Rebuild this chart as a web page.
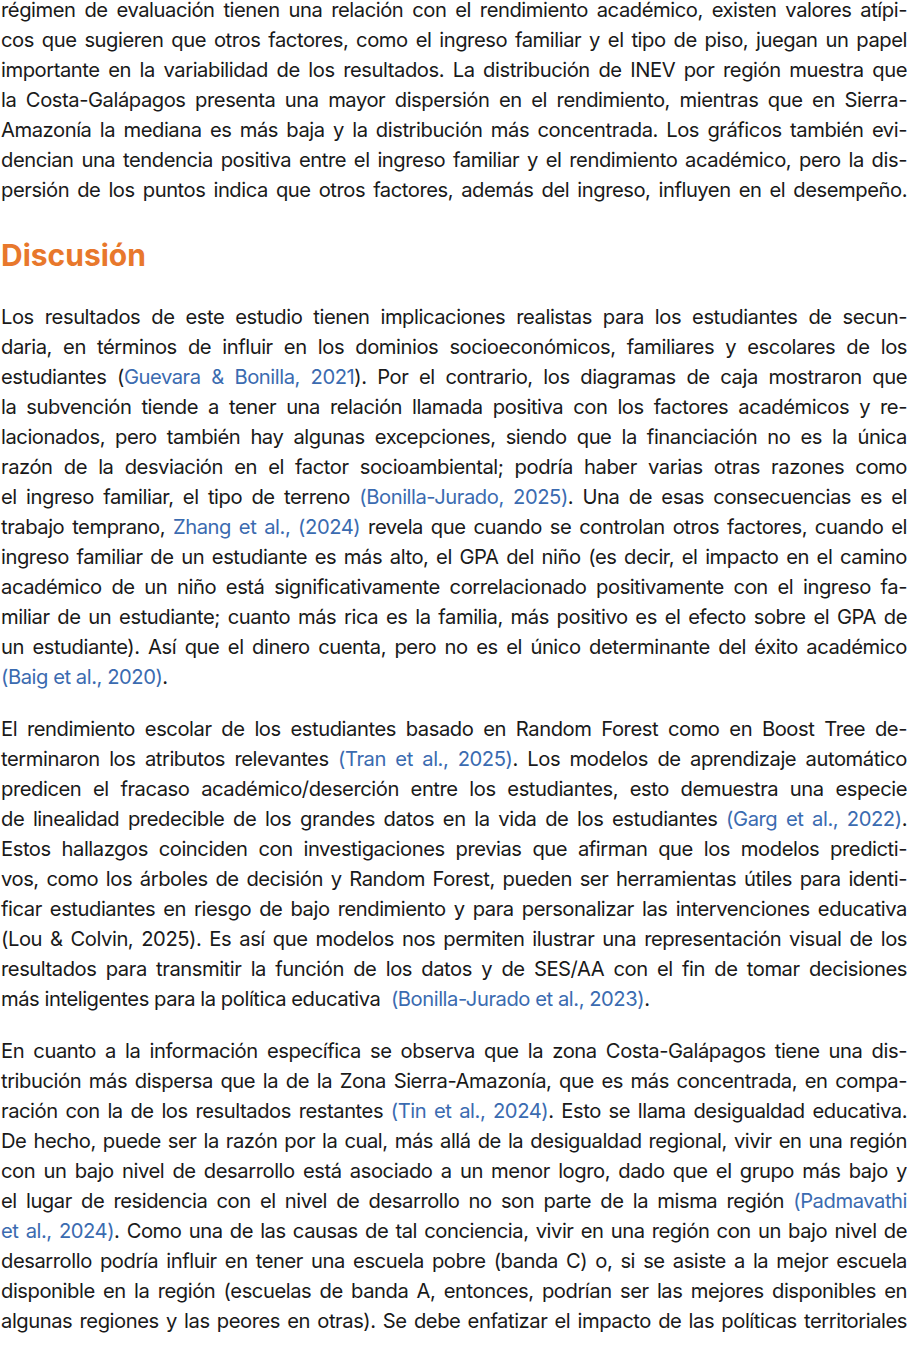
<!DOCTYPE html>
<html lang="es">
<head>
<meta charset="utf-8">
<script src="https://cdn.jsdelivr.net/npm/chart.js@4"></script>
<style>
  html, body { margin: 0; padding: 0; background: #fff; }
  body { width: 907px; height: 1361px; overflow: hidden; font-family: Inter, "Noto Sans", sans-serif; color: #1a1a1a; font-size: 20.2px; letter-spacing: -0.45px; }
  #page { position: absolute; left: 1px; top: -5px; width: 906px; }
  .l { height: 30px; line-height: 30px; white-space: nowrap; text-align: justify; text-align-last: justify; overflow: visible; }
  .e { text-align-last: left; }
  .a { color: #3b6bb0; }
  h2 { margin: 0; height: 97px; line-height: 100px; color: #e8782c; font-size: 30px; font-weight: 700; letter-spacing: 0; }
  .pgap { height: 22px; }
</style>
</head>
<body>
<div id="page"></div>
<script>
// each line of text as it is set in the reference; links are marked with [..]
const para1 = [
  "régimen de evaluación tienen una relación con el rendimiento académico, existen valores atípi-",
  "cos que sugieren que otros factores, como el ingreso familiar y el tipo de piso, juegan un papel",
  "importante en la variabilidad de los resultados. La distribución de INEV por región muestra que",
  "la Costa-Galápagos presenta una mayor dispersión en el rendimiento, mientras que en Sierra-",
  "Amazonía la mediana es más baja y la distribución más concentrada. Los gráficos también evi-",
  "dencian una tendencia positiva entre el ingreso familiar y el rendimiento académico, pero la dis-",
  "persión de los puntos indica que otros factores, además del ingreso, influyen en el desempeño."
];
const heading = "Discusión";
const para2 = [
  "Los resultados de este estudio tienen implicaciones realistas para los estudiantes de secun-",
  "daria, en términos de influir en los dominios socioeconómicos, familiares y escolares de los",
  "estudiantes ([Guevara & Bonilla, 2021]). Por el contrario, los diagramas de caja mostraron que",
  "la subvención tiende a tener una relación llamada positiva con los factores académicos y re-",
  "lacionados, pero también hay algunas excepciones, siendo que la financiación no es la única",
  "razón de la desviación en el factor socioambiental; podría haber varias otras razones como",
  "el ingreso familiar, el tipo de terreno [(Bonilla-Jurado, 2025)]. Una de esas consecuencias es el",
  "trabajo temprano, [Zhang et al., (2024)] revela que cuando se controlan otros factores, cuando el",
  "ingreso familiar de un estudiante es más alto, el GPA del niño (es decir, el impacto en el camino",
  "académico de un niño está significativamente correlacionado positivamente con el ingreso fa-",
  "miliar de un estudiante; cuanto más rica es la familia, más positivo es el efecto sobre el GPA de",
  "un estudiante). Así que el dinero cuenta, pero no es el único determinante del éxito académico",
  "[(Baig et al., 2020)]."
];
const para3 = [
  "El rendimiento escolar de los estudiantes basado en Random Forest como en Boost Tree de-",
  "terminaron los atributos relevantes [(Tran et al., 2025)]. Los modelos de aprendizaje automático",
  "predicen el fracaso académico/deserción entre los estudiantes, esto demuestra una especie",
  "de linealidad predecible de los grandes datos en la vida de los estudiantes [(Garg et al., 2022)].",
  "Estos hallazgos coinciden con investigaciones previas que afirman que los modelos predicti-",
  "vos, como los árboles de decisión y Random Forest, pueden ser herramientas útiles para identi-",
  "ficar estudiantes en riesgo de bajo rendimiento y para personalizar las intervenciones educativa",
  "(Lou & Colvin, 2025). Es así que modelos nos permiten ilustrar una representación visual de los",
  "resultados para transmitir la función de los datos y de SES/AA con el fin de tomar decisiones",
  "más inteligentes para la política educativa&nbsp; [(Bonilla-Jurado et al., 2023)]."
];
const para4 = [
  "En cuanto a la información específica se observa que la zona Costa-Galápagos tiene una dis-",
  "tribución más dispersa que la de la Zona Sierra-Amazonía, que es más concentrada, en compa-",
  "ración con la de los resultados restantes [(Tin et al., 2024)]. Esto se llama desigualdad educativa.",
  "De hecho, puede ser la razón por la cual, más allá de la desigualdad regional, vivir en una región",
  "con un bajo nivel de desarrollo está asociado a un menor logro, dado que el grupo más bajo y",
  "el lugar de residencia con el nivel de desarrollo no son parte de la misma región [(Padmavathi]",
  "[et al., 2024)]. Como una de las causas de tal conciencia, vivir en una región con un bajo nivel de",
  "desarrollo podría influir en tener una escuela pobre (banda C) o, si se asiste a la mejor escuela",
  "disponible en la región (escuelas de banda A, entonces, podrían ser las mejores disponibles en",
  "algunas regiones y las peores en otras). Se debe enfatizar el impacto de las políticas territoriales"
];

const page = document.getElementById("page");
function esc(s) { return s.replace(/&(?!nbsp;)/g, "&amp;").replace(/</g, "&lt;"); }
function addPara(lines, lastOpen) {
  lines.forEach(function (t, i) {
    const d = document.createElement("div");
    d.className = "l" + (i == lines.length - 1 && !lastOpen ? " e" : "");
    d.innerHTML = esc(t).replace(/\[([^\]]*)\]/g, '<span class="a">$1</span>');
    page.appendChild(d);
  });
}
function gap(c) { const g = document.createElement("div"); g.className = c; page.appendChild(g); }

addPara(para1, true);
const h = document.createElement("h2"); h.textContent = heading; page.appendChild(h);
addPara(para2, false);
gap("pgap");
addPara(para3, false);
gap("pgap");
addPara(para4, true);
</script>
</body>
</html>
